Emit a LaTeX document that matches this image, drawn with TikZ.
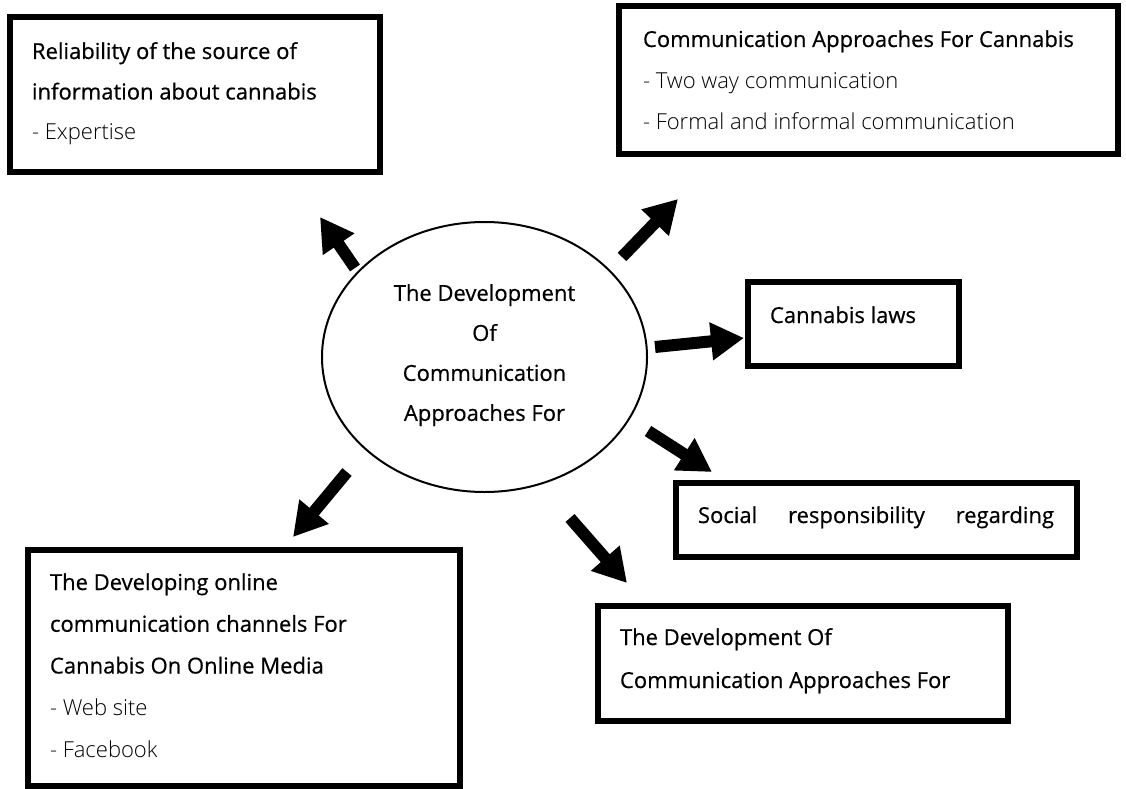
\documentclass[tikz,border=0pt]{standalone}
\usepackage{fontspec}
\setmainfont{Open Sans}[RawFeature={embolden=0.6}]
\newfontfamily\lightfont{Open Sans Light}
\usetikzlibrary{arrows.meta,shapes.geometric}
\tikzset{
  boxnode/.style={draw, line width=6pt, anchor=north west, inner ysep=0pt, outer sep=0pt},
  bigarrow/.style={line width=12pt, -{Triangle[width=36pt,length=33pt]}},
}
% #1 height, #2 width, #3 baselineskip, #4 first baseline depth, #5 text
\newcommand{\boxtxt}[5]{\parbox[t][#1][t]{#2}{\fontsize{22}{#3}\selectfont\raggedright\rule{0pt}{#4}#5}}
\begin{document}
\begin{tikzpicture}[x=1pt,y=-1pt]
\useasboundingbox (0,0) rectangle (1126,789);

% centre ellipse
\node[draw, ellipse, line width=2pt, minimum width=325pt, minimum height=270pt, inner sep=0pt, align=center,
      font=\fontsize{22}{40}\selectfont] (c) at (484.5,357)
  {The Development\\Of\\Communication\\Approaches For\rule[-9pt]{0pt}{0pt}};

% boxes
\node[boxnode, inner xsep=22pt] (tl) at (10,17)
  {\boxtxt{155pt}{326pt}{40.5pt}{42pt}{\mbox{Reliability of the source of}\\\mbox{information about cannabis}\\{\lightfont - Expertise}}};

\node[boxnode, inner xsep=24pt] (tr) at (619,6)
  {\boxtxt{148pt}{451pt}{41.5pt}{41pt}{\mbox{Communication Approaches For Cannabis}\\{\lightfont\mbox{- Two way communication}}\\{\lightfont\mbox{- Formal and informal communication}}}};

\node[boxnode, inner xsep=22.5pt] (law) at (747.5,281.5)
  {\boxtxt{84pt}{166pt}{40pt}{41.5pt}{\mbox{Cannabis laws}}};

\node[boxnode, inner xsep=22.5pt] (soc) at (675.5,482.5)
  {\boxtxt{74pt}{356pt}{40pt}{40.5pt}{\hbox to 356pt{Social\hfill responsibility\hfill regarding}}};

\node[boxnode, inner xsep=22pt] (br) at (598,606)
  {\boxtxt{115pt}{366pt}{43pt}{39pt}{\mbox{The Development Of}\\\mbox{Communication Approaches For}}};

\node[boxnode, inner xsep=22pt] (bl) at (28,550)
  {\boxtxt{236pt}{388pt}{41.75pt}{40pt}{\mbox{The Developing online}\\\mbox{communication channels For}\\\mbox{Cannabis On Online Media}\\{\lightfont - Web site}\\{\lightfont - Facebook}}};

% arrow end points
\coordinate (a1s) at (355,268); \coordinate (a1e) at (320,217);
\coordinate (a2s) at (622,257); \coordinate (a2e) at (678,199);
\coordinate (a3s) at (655,347); \coordinate (a3e) at (744,338);
\coordinate (a4s) at (648,431); \coordinate (a4e) at (712,472);
\coordinate (a5s) at (570,518); \coordinate (a5e) at (627,583);
\coordinate (a6s) at (347,472); \coordinate (a6e) at (293,537);

\draw[bigarrow] (a1s) -- (a1e);
\draw[bigarrow] (a2s) -- (a2e);
\draw[bigarrow] (a3s) -- (a3e);
\draw[bigarrow] (a4s) -- (a4e);
\draw[bigarrow] (a5s) -- (a5e);
\draw[bigarrow] (a6s) -- (a6e);
\end{tikzpicture}
\end{document}
